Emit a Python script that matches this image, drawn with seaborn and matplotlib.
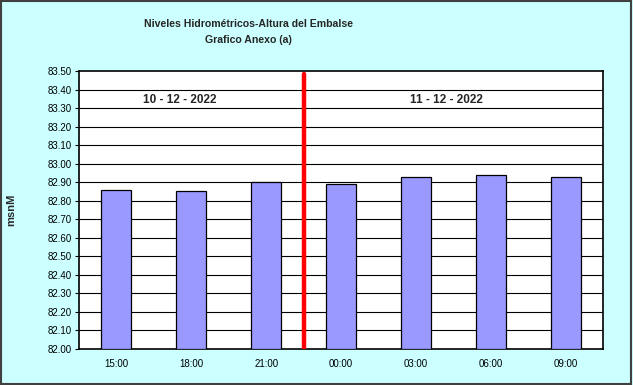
import matplotlib
matplotlib.use("Agg")
import matplotlib.pyplot as plt
import seaborn as sns
import pandas as pd
from matplotlib.ticker import FixedLocator, FormatStrFormatter

horas = ["15:00", "18:00", "21:00", "00:00", "03:00", "06:00", "09:00"]
niveles = [82.86, 82.85, 82.90, 82.89, 82.93, 82.94, 82.93]
fechas = ["10 - 12 - 2022", "11 - 12 - 2022"]
yticks = [round(82.0 + 0.1 * i, 2) for i in range(16)]

sns.set_theme(style="white")
plt.rcParams['font.family'] = ['Liberation Sans', 'DejaVu Sans']

df = pd.DataFrame({"hora": horas, "nivel": niveles})

fig = plt.figure(figsize=(6.33, 3.85), dpi=100, facecolor="#CCFFFF")
ax = fig.add_axes([79/633, 1-349/385, (603-79)/633, (349-71)/385])
ax.set_facecolor("white")

base = 82.0
sns.barplot(data=df.assign(h=df["nivel"] - base), x="hora", y="h", bottom=base,
            color="#9999FF", edgecolor="black", linewidth=0.9, width=0.4,
            saturation=1, ax=ax, zorder=3)

ax.set_ylim(82.0, 83.5)
ax.set_xlim(-0.5, len(horas) - 0.5)
ax.yaxis.set_major_locator(FixedLocator(yticks))
ax.yaxis.set_major_formatter(FormatStrFormatter("%.2f"))
for y in yticks[1:-1]:
    ax.axhline(y, color="black", linewidth=0.8, zorder=1)

ax.set_xticks(range(len(horas)))
ax.set_xticklabels(horas)
ax.set_xticks([i - 0.5 for i in range(len(horas) + 1)], minor=True)
ax.tick_params(axis="x", which="major", length=0, labelsize=7, pad=7, colors="black")
ax.tick_params(axis="x", which="minor", length=3, width=0.8, color="black", direction="out")
ax.tick_params(axis="y", length=3, width=0.8, labelsize=7, pad=2, left=True, colors="black")

for s in ax.spines.values():
    s.set_color("black")
    s.set_linewidth(1.2)

ax.set_xlabel("")
ax.set_ylabel("")
fig.text(11/633, 1-210/385, "msnM", rotation=90, ha="center", va="center",
         fontsize=8, fontweight="bold")

ax.axvline(2.5, ymin=0, ymax=0.99, color="red", linewidth=3.2, zorder=5)

ax.text(0.84, 83.345, fechas[0], ha="center", va="center", fontsize=8.5, fontweight="bold", zorder=6)
ax.text(4.41, 83.345, fechas[1], ha="center", va="center", fontsize=8.5, fontweight="bold", zorder=6)

fig.text(248/633, 1-24/385, "Niveles Hidrométricos-Altura del Embalse", ha="center", va="center",
         fontsize=7.6, fontweight="bold")
fig.text(248/633, 1-40/385, "Grafico Anexo (a)", ha="center", va="center",
         fontsize=7.6, fontweight="bold")

border = plt.Rectangle((0.002, 0.003), 0.995, 0.994, transform=fig.transFigure,
                       fill=False, edgecolor="#404040", linewidth=1.5)
fig.patches.append(border)

fig.savefig("out.png", dpi=100, facecolor=fig.get_facecolor())
